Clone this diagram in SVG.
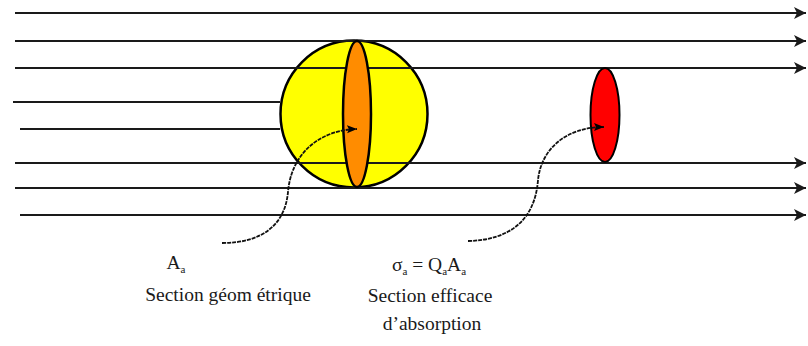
<svg xmlns="http://www.w3.org/2000/svg" width="808" height="346" viewBox="0 0 808 346">
<defs>
<style>
.ray{stroke:#1a1a1a;stroke-width:2;fill:none}
.curve{stroke:#111;stroke-width:1.8;fill:none;stroke-dasharray:4 1}
.lbl{font-family:"Liberation Serif","Times New Roman",serif;font-size:19.5px;fill:#1a1a1a}
.sub{font-size:11px}
</style>
<marker id="rayhead" markerUnits="userSpaceOnUse" markerWidth="14" markerHeight="14" refX="12" refY="6" orient="auto" viewBox="0 0 14 12">
<path d="M0,0 L12,6 L0,12 L3,6 Z" fill="#1a1a1a"/>
</marker>
<marker id="curvehead" markerUnits="userSpaceOnUse" markerWidth="12" markerHeight="10" refX="10" refY="4" orient="auto" viewBox="0 0 12 8">
<path d="M0,0 L10,4 L0,8 L2,4 Z" fill="#000"/>
</marker>
</defs>
<rect width="808" height="346" fill="#fff"/>
<g id="sphere-back">
<circle cx="354" cy="114" r="73.5" fill="#ffff00" stroke="#000" stroke-width="2.5"/>
</g>
<g id="connectors">
<line class="ray" x1="15" y1="13" x2="806" y2="13" marker-end="url(#rayhead)"/>
<line class="ray" x1="15" y1="41" x2="806" y2="41" marker-end="url(#rayhead)"/>
<line class="ray" x1="15" y1="68" x2="806" y2="68" marker-end="url(#rayhead)"/>
<line class="ray" x1="13" y1="102" x2="280" y2="102"/>
<line class="ray" x1="20" y1="129" x2="280" y2="129"/>
<line class="ray" x1="15" y1="163" x2="806" y2="163" marker-end="url(#rayhead)"/>
<line class="ray" x1="15" y1="188" x2="806" y2="188" marker-end="url(#rayhead)"/>
<line class="ray" x1="20" y1="215" x2="806" y2="215" marker-end="url(#rayhead)"/>
</g>
<g id="geometric-section">
<ellipse cx="357" cy="114" rx="14" ry="73" fill="#ff8c00" stroke="#000" stroke-width="2.5"/>
</g>
<g id="absorption-section">
<ellipse cx="605" cy="115" rx="14.5" ry="47" fill="#ff0000" stroke="#000" stroke-width="2"/>
</g>
<g id="pointers">
<path class="curve" d="M222,243 C262,243 285,225 288,192 C291,155 318,130 357,129" marker-end="url(#curvehead)"/>
<path class="curve" d="M468,241 C510,240 535,220 538,180 C541,150 565,127 604,127" marker-end="url(#curvehead)"/>
</g>
<g id="label-geometric">
<text class="lbl" x="176" y="269" text-anchor="middle">A<tspan class="sub" dy="4">a</tspan></text>
<text class="lbl" x="228" y="301" text-anchor="middle">Section géom étrique</text>
</g>
<g id="label-absorption">
<text class="lbl" x="429" y="271" text-anchor="middle">σ<tspan class="sub" dy="4">a</tspan><tspan dy="-4"> = Q</tspan><tspan class="sub" dy="4">a</tspan><tspan dy="-4">A</tspan><tspan class="sub" dy="4">a</tspan></text>
<text class="lbl" x="430" y="302" text-anchor="middle">Section efficace</text>
<text class="lbl" x="432" y="330" text-anchor="middle">d’absorption</text>
</g>
</svg>
